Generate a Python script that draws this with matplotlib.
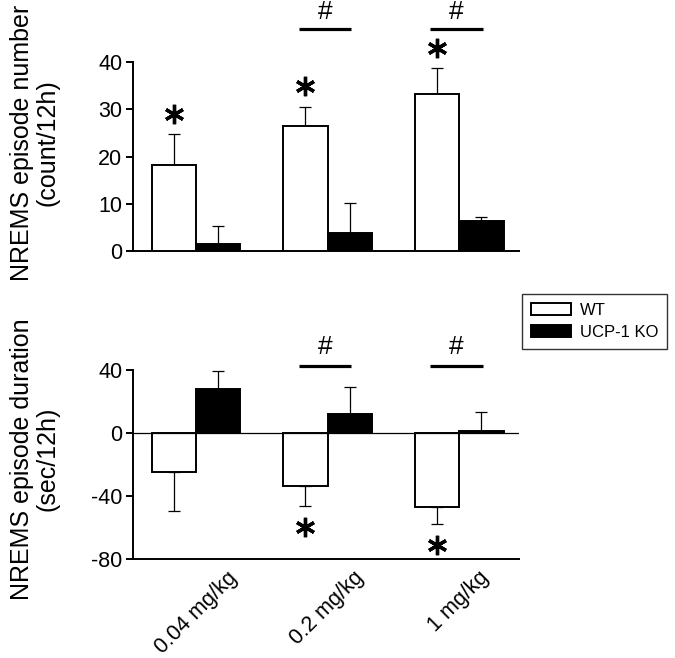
import matplotlib.pyplot as plt
import numpy as np
from matplotlib.patches import Patch

plt.rcParams["font.family"] = ["Liberation Sans", "DejaVu Sans"]
plt.rcParams["axes.unicode_minus"] = False

DOSES = ["0.04 mg/kg", "0.2 mg/kg", "1 mg/kg"]

# episode number (count/12h)
NUMBER_WT = [18.2, 26.4, 33.3]
NUMBER_WT_ERR = [6.6, 4.2, 5.5]
NUMBER_KO = [1.5, 3.8, 6.3]
NUMBER_KO_ERR = [3.8, 6.3, 0.9]
NUMBER_STAR = [True, True, True]
NUMBER_HASH = [False, True, True]

# episode duration (sec/12h)
DURATION_WT = [-24.9, -33.6, -47.1]
DURATION_WT_ERR = [24.3, 12.4, 10.8]
DURATION_KO = [28.0, 12.0, 1.5]
DURATION_KO_ERR = [11.5, 17.2, 12.2]
DURATION_STAR = [False, True, True]
DURATION_HASH = [False, True, True]

BAR_WIDTH = 0.338
LW = 1.4


def one_sided(values, errors):
    values = np.asarray(values)
    errors = np.asarray(errors)
    lower = np.where(values < 0, errors, 0)
    upper = np.where(values >= 0, errors, 0)
    return [lower, upper]


def draw_panel(axis, wt, wt_err, ko, ko_err, ylim, yticks):
    x = np.arange(len(wt))
    axis.bar(x - BAR_WIDTH / 2, wt, BAR_WIDTH, color="white", edgecolor="black", linewidth=LW, zorder=3)
    axis.bar(x + BAR_WIDTH / 2, ko, BAR_WIDTH, color="black", edgecolor="black", linewidth=LW, zorder=3)
    axis.errorbar(x - BAR_WIDTH / 2, wt, yerr=one_sided(wt, wt_err), fmt="none", ecolor="black",
                  elinewidth=0.9, capsize=4.3, capthick=0.9, zorder=2)
    axis.errorbar(x + BAR_WIDTH / 2, ko, yerr=one_sided(ko, ko_err), fmt="none", ecolor="black",
                  elinewidth=0.9, capsize=4.3, capthick=0.9, zorder=2)
    axis.set_xlim(-0.479, 2.456)
    axis.set_ylim(*ylim)
    axis.set_yticks(yticks)
    axis.spines["top"].set_visible(False)
    axis.spines["right"].set_visible(False)
    axis.spines["left"].set_linewidth(LW)
    axis.spines["bottom"].set_linewidth(LW)
    axis.tick_params(axis="y", direction="out", length=4.8, width=LW, labelsize=15.5, pad=3)
    axis.tick_params(axis="x", length=0)
    return x


def mark_stars(axis, x, tops, flags, offset):
    for xi, top, flag in zip(x, tops, flags):
        if flag:
            axis.plot(xi - BAR_WIDTH / 2, top + offset, marker=(6, 2, 0), markersize=14,
                      markeredgewidth=2.4, color="black", clip_on=False, zorder=5)


def mark_hash(axis, x, flags, line_y, text_y):
    for xi, flag in zip(x, flags):
        if flag:
            axis.plot([xi - 0.22, xi + 0.18], [line_y, line_y], color="black", linewidth=2.3,
                      clip_on=False, solid_capstyle="butt")
            axis.text(xi - 0.02, text_y, "#", ha="center", va="center", fontsize=19, clip_on=False)


figure = plt.figure(figsize=(6.75, 6.58), dpi=100)
top = figure.add_axes([0.197, 0.6185, 0.572, 0.287])
bottom = figure.add_axes([0.197, 0.1505, 0.572, 0.2868])

x = draw_panel(top, NUMBER_WT, NUMBER_WT_ERR, NUMBER_KO, NUMBER_KO_ERR, (0, 40), [0, 10, 20, 30, 40])
top.set_xticks([])
wt_tops = np.array(NUMBER_WT) + np.array(NUMBER_WT_ERR)
mark_stars(top, x, wt_tops, NUMBER_STAR, 4.3)
mark_hash(top, x, NUMBER_HASH, 47.0, 50.6)
top.set_ylabel("NREMS episode number\n(count/12h)", fontsize=18, linespacing=1.1)
top.yaxis.set_label_coords(-0.19, 0.575)

draw_panel(bottom, DURATION_WT, DURATION_WT_ERR, DURATION_KO, DURATION_KO_ERR, (-80, 40), [-80, -40, 0, 40])
bottom.axhline(0, color="black", linewidth=0.9, zorder=4)
bottom.set_xticks(x)
bottom.set_xticklabels(DOSES, rotation=45, ha="center", fontsize=15.5)
bottom.tick_params(axis="x", pad=6)
wt_ends = np.array(DURATION_WT) - np.array(DURATION_WT_ERR)
mark_stars(bottom, x, wt_ends, DURATION_STAR, -13.5)
mark_hash(bottom, x, DURATION_HASH, 42.9, 54.5)
bottom.set_ylabel("NREMS episode duration\n(sec/12h)", fontsize=18, linespacing=1.1)
bottom.yaxis.set_label_coords(-0.19, 0.53)

handles = [
    Patch(facecolor="white", edgecolor="black", linewidth=LW, label="WT"),
    Patch(facecolor="black", edgecolor="black", linewidth=LW, label="UCP-1 KO"),
]
legend = figure.legend(handles=handles, loc="upper left", bbox_to_anchor=(522 / 675, 1 - 294 / 658),
                       fontsize=12, frameon=True, fancybox=False, handlelength=2.4, handleheight=0.75,
                       handletextpad=0.5, labelspacing=0.4, borderpad=0.55, borderaxespad=0)
legend.get_frame().set_edgecolor("black")
legend.get_frame().set_linewidth(1.0)

figure.savefig("out.png", dpi=100)
